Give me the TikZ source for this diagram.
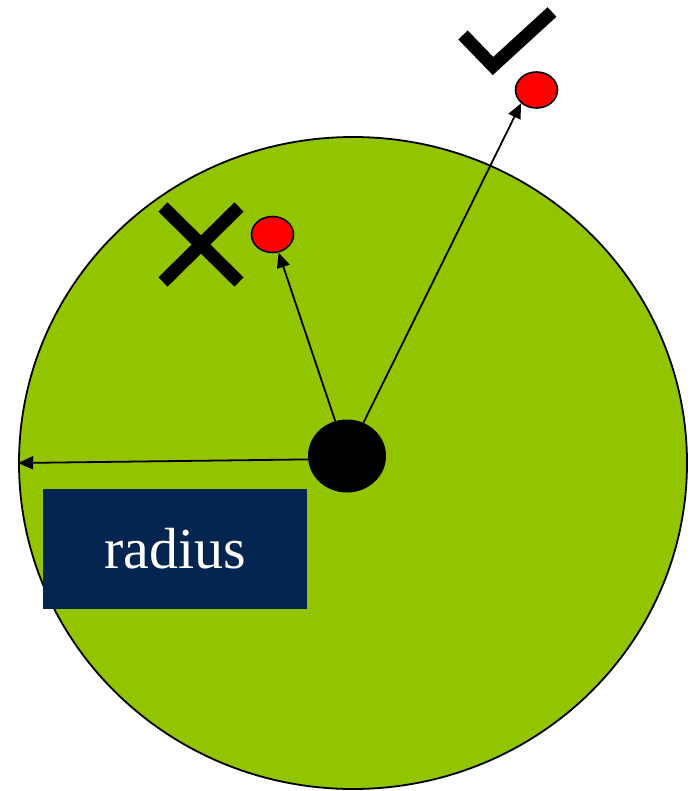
\documentclass[tikz,border=0pt]{standalone}
\usepackage{fontspec}
\setmainfont{Liberation Serif}
\usetikzlibrary{arrows.meta,shapes.geometric}
\definecolor{fieldgreen}{RGB}{147,196,0}
\definecolor{labelnavy}{RGB}{3,37,79}

\begin{document}
\begin{tikzpicture}[x=1pt,y=-1pt]
\tikzset{
  areanode/.style={ellipse,draw=black,fill=fieldgreen,line width=1.8pt,inner sep=0pt,minimum width=668pt,minimum height=652pt},
  centrenode/.style={ellipse,fill=black,inner sep=0pt,minimum width=78pt,minimum height=73pt},
  pointnode/.style={ellipse,draw=black,fill=red,line width=1.6pt,inner sep=0pt,minimum width=42pt,minimum height=36pt},
  labelbox/.style={rectangle,fill=labelnavy,text=white,inner sep=0pt,minimum width=264pt,minimum height=120pt,font=\fontsize{58}{60}\selectfont},
  pointer/.style={draw=black,line width=1.8pt,-{Triangle[length=15pt,width=13pt]}},
  markstroke/.style={draw=black,line width=13pt,line cap=butt,line join=miter}
}
\useasboundingbox (0,0) rectangle (692,791);
\node[areanode] (area) at (353,463) {};
\node[labelbox] (radiuslabel) at (175,549) {radius};
\node[centrenode] (centre) at (347,456) {};
\node[pointnode] (inside) at (272.5,234.5) {};
\node[pointnode] (outside) at (536.5,90) {};
\draw[pointer] (centre.185) -- (area.west);
\draw[pointer] (centre) -- (inside);
\draw[pointer] (centre) -- (outside.south west);
% cross and tick marks
\draw[markstroke] (163,207) -- (239,282);
\draw[markstroke] (239,207) -- (163,282);
\draw[markstroke] (463,35) -- (493,66) -- (552,12);
\end{tikzpicture}
\end{document}
